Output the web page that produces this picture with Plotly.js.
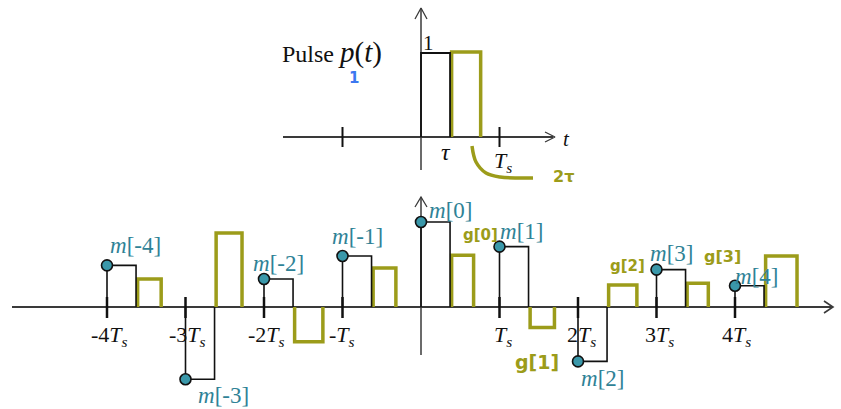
<!DOCTYPE html>
<html><head><meta charset="utf-8">
<script src="https://cdn.plot.ly/plotly-3.0.1.min.js"></script>
<style>html,body{margin:0;padding:0;background:#fff}#chart{width:841px;height:409px}</style>
</head><body><div id="chart"></div>
<script>
// ---------- data ----------
const sampleIndex = [-4, -3, -2, -1, 0, 1, 2, 3, 4];
const mValues = [0.49, -0.85, 0.33, 0.60, 1.00, 0.71, -0.64, 0.44, 0.25];
const gValues = [0.33, 0.87, -0.41, 0.46, 0.61, -0.24, 0.26, 0.28, 0.60];
const gWidths = [0.30, 0.33, 0.36, 0.29, 0.28, 0.31, 0.36, 0.27, 0.40];
const tickPositions = [-4, -3, -2, -1, 1, 2, 3, 4];
const tickLabels = ['-4<i>T<sub>s</sub></i>', '-3<i>T<sub>s</sub></i>', '-2<i>T<sub>s</sub></i>', '-<i>T<sub>s</sub></i>',
                    '<i>T<sub>s</sub></i>', '2<i>T<sub>s</sub></i>', '3<i>T<sub>s</sub></i>', '4<i>T<sub>s</sub></i>'];
const gLabels = ['g[0]', 'g[1]', 'g[2]', 'g[3]'];
const tau = 0.37;          // pulse width in units of Ts
const pulseAmp = 1;        // p(t) amplitude
const pulseTicks = [-1, 1];

// ---------- geometry (pixel mapping helpers) ----------
const PX = 78.5;          // pixels per Ts
const X0 = 421;           // pixel x of t = 0
const AMP = 85;           // pixels per unit of m
const TOPAMP = 84;        // pixels per unit of p(t)
const X = px => (px - X0) / PX;
const Y = py => 307 - py;           // bottom axis at pixel y = 307
const TOPY = Y(137);                // top plot axis
const TEAL = '#2f8296', DOT = '#3a98aa', OLIVE = '#9c9c1a', AX = '#3a3a3a';

const traces = [];
function seg(xs, ys, color, width, shape) {
  traces.push({x: xs, y: ys, mode: 'lines', type: 'scatter', hoverinfo: 'skip',
    line: {color: color, width: width, shape: shape || 'linear'}, showlegend: false});
}

// ---------- bottom axes ----------
seg([X(12), X(833)], [0, 0], AX, 2);
seg([X(824), X(833), X(824)], [Y(301), 0, Y(313)], AX, 1.6);
seg([0, 0], [Y(355), Y(197)], AX, 1.5);
seg([X(415), 0, X(427)], [Y(207), Y(197), Y(207)], AX, 1.3);

// green (hand-drawn) pulses, drawn under the black ones
{
  const xs = [], ys = [];
  sampleIndex.forEach((k, i) => {
    const h = gValues[i] * AMP, a = k + tau + 0.02, b = a + gWidths[i];
    xs.push(a, a, b, b, null);
    ys.push(0, h, h, 0, null);
  });
  seg(xs, ys, OLIVE, 3.5);
}

// tick marks
{
  const xs = [], ys = [];
  tickPositions.forEach(k => { xs.push(k, k, null); ys.push(Y(318), Y(297), null); });
  seg(xs, ys, '#111', 2.5);
}

// black sample pulses
{
  const xs = [], ys = [];
  sampleIndex.forEach((k, i) => {
    const h = mValues[i] * AMP;
    xs.push(k, k, k + tau, k + tau, null);
    ys.push(0, h, h, 0, null);
  });
  seg(xs, ys, '#111', 1.6);
}

// dots
traces.push({x: sampleIndex, y: mValues.map(v => v * AMP), mode: 'markers', type: 'scatter',
  hoverinfo: 'skip', showlegend: false,
  marker: {size: 11, color: DOT, line: {color: '#111', width: 1.6}}});

// ---------- top plot ----------
seg([X(283), X(553)], [TOPY, TOPY], AX, 1.8);
seg([X(545), X(555), X(545)], [Y(132), TOPY, Y(142)], AX, 1.3);
seg([0, 0], [Y(170), Y(8)], AX, 1.5);
seg([X(415), 0, X(427)], [Y(19), Y(8), Y(19)], AX, 1.3);
{
  const xs = [], ys = [];
  pulseTicks.forEach(k => { xs.push(k, k, null); ys.push(Y(147), Y(127), null); });
  seg(xs, ys, '#111', 2);
}
seg([tau + 0.02, tau + 0.02, 2 * tau + 0.02, 2 * tau + 0.02], [TOPY, TOPY + pulseAmp * TOPAMP + 1, TOPY + pulseAmp * TOPAMP + 1, TOPY], OLIVE, 3.5);
seg([0, 0, tau, tau], [TOPY, TOPY + pulseAmp * TOPAMP, TOPY + pulseAmp * TOPAMP, TOPY], '#111', 1.8);
seg([X(472), X(476), X(486), X(500), X(533)], [Y(146), Y(162), Y(173), Y(177), Y(178)], OLIVE, 3.5, 'spline');

// ---------- annotations ----------
const ann = [];
function txt(text, px, py, size, color, opts) {
  ann.push(Object.assign({text: text, x: X(px), y: Y(py), xref: 'x', yref: 'y', showarrow: false,
    xanchor: 'center', yanchor: 'middle',
    font: {family: 'Liberation Serif, serif', size: size, color: color}}, opts || {}));
}
const tickLabelPx = [109, 187, 266, 342, 503, 581, 659, 736];
tickPositions.forEach((k, i) => txt(tickLabels[i], tickLabelPx[i], 336, 22, '#111'));

const mLabelPx = [[135, 245], [223, 395], [278, 263], [357, 236], [450, 210], [521, 231], [602, 378], [671, 253], [756, 276]];
sampleIndex.forEach((k, i) => txt(`<i>m</i>[${k}]`, mLabelPx[i][0], mLabelPx[i][1], 23, TEAL));

const gLabelPx = [[480, 235, 15], [537, 362, 19], [627, 266, 15], [722, 256, 16]];
gLabels.forEach((g, i) => txt(`<b>${g}</b>`, gLabelPx[i][0], gLabelPx[i][1], gLabelPx[i][2], OLIVE,
  {font: {family: 'DejaVu Sans', size: gLabelPx[i][2], color: OLIVE}}));

txt('Pulse <span style="font-size:29px"><i>p</i>(<i>t</i>)</span>', 332, 52, 24, '#111');
txt('1', 428, 43, 21, '#111');
txt('<i>τ</i>', 446, 152, 24, '#111');
txt('<i>T<sub>s</sub></i>', 503, 162, 22, '#111');
txt('<i>t</i>', 566, 139, 21, '#111');
txt('<b>2τ</b>', 563, 176, 16, OLIVE, {font: {family: 'DejaVu Sans', size: 16, color: OLIVE}});
txt('<b>1</b>', 354, 78, 15, '#3c78f0', {font: {family: 'DejaVu Sans', size: 15, color: '#3c78f0'}});

const layout = {
  width: 841, height: 409, margin: {l: 0, r: 0, t: 0, b: 0},
  paper_bgcolor: '#fff', plot_bgcolor: '#fff', showlegend: false,
  xaxis: {range: [X(0), X(841)], visible: false, fixedrange: true},
  yaxis: {range: [Y(409), Y(0)], visible: false, fixedrange: true},
  annotations: ann
};
Plotly.newPlot('chart', traces, layout, {staticPlot: true, displayModeBar: false});
</script>
</body></html>
